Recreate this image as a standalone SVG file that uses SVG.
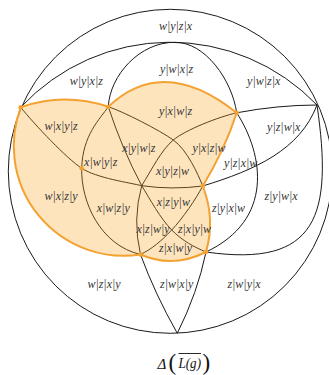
<svg xmlns="http://www.w3.org/2000/svg" width="329" height="375" viewBox="0 0 329 375">
<style>
.e{fill:none;stroke:#1a1a1a;stroke-width:1}
.reg{fill:#f8a526;fill-opacity:0.3;stroke:#f3a232;stroke-width:2;stroke-linejoin:round}
.dot{fill:#f3a232}
.lb{font-family:"Liberation Serif","DejaVu Serif",serif;font-style:italic;font-size:12px;fill:#333;text-anchor:middle}
.tt{font-family:"Liberation Serif","DejaVu Serif",serif;fill:#111}
</style>
<rect width="329" height="375" fill="#fff"/>
<g id="connectors">
<circle class="e" cx="170.3" cy="171.3" r="162"/>
<path class="e" d="M20.7,107.3 A203.7,203.7 0 0 1 317,105"/>
<path class="e" d="M108.3,106.7 C110,75 140,42 175,42.3"/>
<path class="e" d="M175,42.3 C205,42 232,80 236.7,112.8"/>
<path class="e" d="M236.7,112.8 C264,155 274,220 206,252"/>
<path class="e" d="M317,105 C300,150 255,170 202.8,186"/>
<path class="e" d="M236.7,112.8 Q277.2,105.1 317,105"/>
<path class="e" d="M317,105 C333,215 318,268 206,252"/>
<path class="e" d="M20.7,107.3 C35,125 66.7,158.55 81.7,168.3 S129.7,182.7 141.7,185.7"/>
<path class="e" d="M108.3,106.7 C100.3,118.7 82.5,135 81.7,168.3 S100,245 140.5,254.5"/>
<path class="e" d="M108.3,106.7 C123.3,111.7 159.3,130 173.3,140 S197.8,174 202.8,186"/>
<path class="e" d="M141.7,185.7 C151.7,169.7 161.3,150 173.3,140 S218.7,116.8 236.7,112.8"/>
<path class="e" d="M141.7,185.7 C149.7,198.7 160.7,219 171.7,230 S194,247 206,252"/>
<path class="e" d="M202.8,186 C195.8,199 182.7,218.5 171.7,230 S152.5,248.5 140.5,254.5"/>
<path class="e" d="M141.7,185.7 Q172,190 202.8,186"/>
<path class="e" d="M141.7,185.7 Q132.3,219.9 140.5,254.5"/>
<path class="e" d="M108.3,106.7 Q121.6,147.8 141.7,185.7"/>
<path class="e" d="M140.5,254.5 Q155,294 177.3,333.3"/>
<path class="e" d="M206,252 Q197.6,292.6 177.3,333.3"/>
</g>
<g id="region">
<path class="reg" d="M20.7,107.3 Q63.5,92 108.3,106.7 Q163.5,54.25 236.7,112.8 Q224.7,150 202.8,186 Q215.6,219 206,252 Q172.75,268.75 140.5,254.5 A110,110 0 0 1 20.7,107.3 Z"/>
</g>
<g id="vertices">
<circle id="vA" class="dot" cx="20.7" cy="107.3" r="2.3"/>
<circle id="vB" class="dot" cx="108.3" cy="106.7" r="2.3"/>
<circle id="vC" class="dot" cx="236.7" cy="112.8" r="2.3"/>
<circle id="vE" class="dot" cx="81.7" cy="168.3" r="2.3"/>
<circle id="vG" class="dot" cx="202.8" cy="186" r="2.3"/>
<circle id="vH" class="dot" cx="140.5" cy="254.5" r="2.3"/>
<circle id="vI" class="dot" cx="206" cy="252" r="2.3"/>
</g>
<g id="labels">
<g id="n-wyzx"><text class="lb" x="175.5" y="30">w|y|z|x</text></g>
<g id="n-wyxz"><text class="lb" x="86.3" y="85">w|y|x|z</text></g>
<g id="n-ywxz"><text class="lb" x="176.5" y="73">y|w|x|z</text></g>
<g id="n-ywzx"><text class="lb" x="263.7" y="85">y|w|z|x</text></g>
<g id="n-wxyz"><text class="lb" x="61" y="130">w|x|y|z</text></g>
<g id="n-yxwz"><text class="lb" x="175.5" y="115">y|x|w|z</text></g>
<g id="n-yzwx"><text class="lb" x="283.7" y="130.5">y|z|w|x</text></g>
<g id="n-xywz"><text class="lb" x="138.8" y="151.5">x|y|w|z</text></g>
<g id="n-yxzw"><text class="lb" x="209" y="151.5">y|x|z|w</text></g>
<g id="n-xwyz"><text class="lb" x="100.7" y="166">x|w|y|z</text></g>
<g id="n-yzxw"><text class="lb" x="240.7" y="166.5">y|z|x|w</text></g>
<g id="n-xyzw"><text class="lb" x="172.5" y="175">x|y|z|w</text></g>
<g id="n-wxzy"><text class="lb" x="61" y="200">w|x|z|y</text></g>
<g id="n-xwzy"><text class="lb" x="113.3" y="212">x|w|z|y</text></g>
<g id="n-xzyw"><text class="lb" x="173.3" y="206">x|z|y|w</text></g>
<g id="n-zyxw"><text class="lb" x="228.5" y="211.7">z|y|x|w</text></g>
<g id="n-zywx"><text class="lb" x="281" y="199.5">z|y|w|x</text></g>
<g id="n-xzwy"><text class="lb" x="153" y="232.5">x|z|w|y</text></g>
<g id="n-zxyw"><text class="lb" x="194.5" y="232.5">z|x|y|w</text></g>
<g id="n-zxwy"><text class="lb" x="175.5" y="251.5">z|x|w|y</text></g>
<g id="n-wzxy"><text class="lb" x="104" y="288">w|z|x|y</text></g>
<g id="n-zwxy"><text class="lb" x="176.7" y="288.3">z|w|x|y</text></g>
<g id="n-zwyx"><text class="lb" x="244" y="288">z|w|y|x</text></g>
</g>
<g id="title">
<text class="tt" x="157.5" y="368.5" font-size="15" font-style="italic">Δ</text>
<text class="tt" x="168.5" y="369.5" font-size="23">(</text>
<text class="tt" x="178.5" y="368" font-size="14" font-style="italic" textLength="22.5" lengthAdjust="spacingAndGlyphs">L(g)</text>
<line x1="178.5" y1="353.5" x2="201" y2="353.5" stroke="#111" stroke-width="0.9"/>
<text class="tt" x="202.5" y="369.5" font-size="23">)</text>
</g>
</svg>
